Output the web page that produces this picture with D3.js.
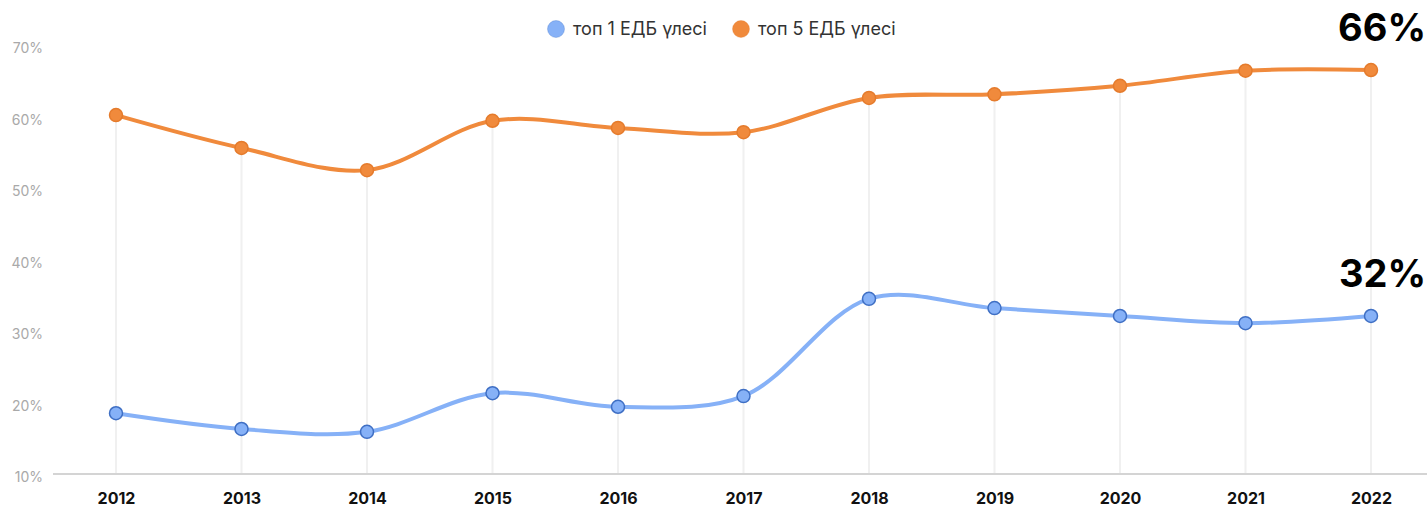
<!DOCTYPE html>
<html>
<head>
<meta charset="utf-8">
<script src="https://cdn.jsdelivr.net/npm/d3@7"></script>
<style>
  body { margin: 0; background: #fff; }
  svg { display: block; font-family: Inter, "Noto Sans", sans-serif; }
</style>
</head>
<body>
<svg id="canvas"></svg>
<script>
// data
const years = [2012, 2013, 2014, 2015, 2016, 2017, 2018, 2019, 2020, 2021, 2022];
const top1 = [18.5, 16.3, 15.9, 21.3, 19.4, 20.9, 34.5, 33.2, 32.1, 31.1, 32.1];
const top5 = [60.2, 55.6, 52.5, 59.4, 58.4, 57.8, 62.6, 63.1, 64.3, 66.4, 66.5];
const yTicks = [10, 20, 30, 40, 50, 60, 70];
const seriesNames = ["топ 1 ЕДБ үлесі", "топ 5 ЕДБ үлесі"];
const endLabels = ["32%", "66%"];

// canvas
let width = 1427;
let height = 509;

let canvas = d3.select("#canvas").attr("width", width).attr("height", height);

let x = d3.scalePoint().domain(years).range([116, 1371]);
let y = d3.scaleLinear().domain([10, 70]).range([474, 45]);

let series = [
  { name: seriesNames[0], values: top1, line: "#86b1f7", fill: "#86b1f7", stroke: "#3f6fc4", label: endLabels[0] },
  { name: seriesNames[1], values: top5, line: "#f08a3c", fill: "#f08a3c", stroke: "#e57b2c", label: endLabels[1] }
];

// drop grid lines from axis up to the highest point
canvas.append("g")
  .selectAll("line")
  .data(years)
  .enter()
  .append("line")
  .attr("x1", d => x(d))
  .attr("x2", d => x(d))
  .attr("y1", y(10))
  .attr("y2", (d, i) => y(Math.max(top1[i], top5[i])))
  .attr("stroke", "#f0f0f0")
  .attr("stroke-width", 2);

// y labels
canvas.append("g")
  .selectAll("text")
  .data(yTicks)
  .enter()
  .append("text")
  .attr("x", 43)
  .attr("y", d => y(d) + 8)
  .attr("text-anchor", "end")
  .attr("fill", "#a9a9a9")
  .attr("font-size", 14)
  .text(d => d + "%");

// x axis
let xAxis = canvas.append("g")
  .attr("transform", `translate(0,${y(10)})`)
  .call(d3.axisBottom(x).tickSize(0).tickPadding(19));
xAxis.select(".domain").remove();
xAxis.append("line")
  .attr("x1", 53).attr("x2", width)
  .attr("stroke", "#d4d4d4").attr("stroke-width", 2);
xAxis.selectAll("text")
  .attr("font-family", "Inter, sans-serif")
  .attr("font-size", 16)
  .attr("font-weight", 700)
  .attr("fill", "#111");

let line = d3.line()
  .x((d, i) => x(years[i]))
  .y(d => y(d))
  .curve(d3.curveCatmullRom.alpha(0.5));

series.forEach(s => {
  canvas.append("path")
    .datum(s.values)
    .attr("d", line)
    .attr("fill", "none")
    .attr("stroke", s.line)
    .attr("stroke-width", 4);

  canvas.append("g")
    .selectAll("circle")
    .data(s.values)
    .enter()
    .append("circle")
    .attr("cx", (d, i) => x(years[i]))
    .attr("cy", d => y(d))
    .attr("r", 6.5)
    .attr("fill", s.fill)
    .attr("stroke", s.stroke)
    .attr("stroke-width", 1.5);

  let last = s.values[s.values.length - 1];
  canvas.append("text")
    .attr("x", 1426)
    .attr("y", y(last) - 29)
    .attr("text-anchor", "end")
    .attr("font-size", 38)
    .attr("font-weight", 700)
    .attr("fill", "#000")
    .text(s.label);
});

// legend
let legend = canvas.append("g");
let legendX = [556, 741];
series.forEach((s, i) => {
  legend.append("circle")
    .attr("cx", legendX[i])
    .attr("cy", 29)
    .attr("r", 8.5)
    .attr("fill", s.fill)
    .attr("stroke", s.stroke)
    .attr("stroke-opacity", 0.3)
    .attr("stroke-width", 1);
  legend.append("text")
    .attr("x", legendX[i] + 17)
    .attr("y", 35)
    .attr("font-size", 18)
    .attr("fill", "#333")
    .text(s.name);
});
</script>
</body>
</html>
